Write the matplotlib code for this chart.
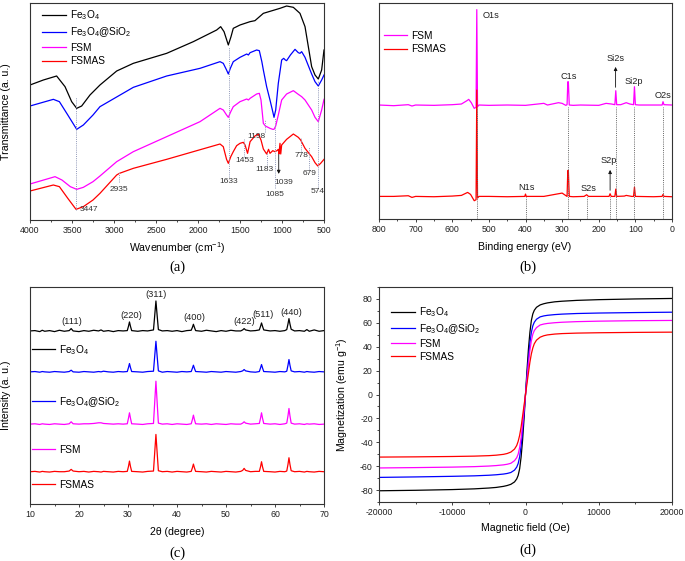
import matplotlib
matplotlib.use("Agg")
import matplotlib.pyplot as plt
from matplotlib.ticker import MultipleLocator
from matplotlib.lines import Line2D
from matplotlib.legend import Legend

plt.rcParams['font.family'] = ['Liberation Sans', 'DejaVu Sans']
plt.rcParams['mathtext.fontset'] = 'custom'
plt.rcParams['mathtext.rm'] = 'Liberation Sans'
plt.rcParams['mathtext.it'] = 'Liberation Sans:italic'
plt.rcParams['axes.unicode_minus'] = False

# ---------------- names / colours ----------------
names = ['Fe$_3$O$_4$', 'Fe$_3$O$_4$@SiO$_2$', 'FSM', 'FSMAS']
colors = ['#000000', '#0000ff', '#ff00ff', '#ff0000']

# ---------------- (a) FT-IR ----------------
ir_black_x = [4000, 3841, 3683, 3583, 3504, 3444, 3385, 3286, 3167, 2968, 2770, 2373, 2056, 1778, 1730,
              1690, 1639, 1607, 1580, 1500, 1381, 1322, 1222, 1024, 945, 865, 786, 726, 647, 607, 568, 528, 500]
ir_black_y = [405, 420, 432, 400, 355, 335, 342, 375, 405, 447, 470, 500, 535, 570, 580,
              565, 525, 550, 575, 585, 595, 598, 620, 635, 642, 638, 620, 580, 460, 435, 423, 450, 510]

ir_blue_x = [4000, 3722, 3650, 3550, 3444, 3365, 3250, 3167, 2770, 2373, 1976, 1738, 1699, 1660, 1639, 1615,
             1580, 1500, 1420, 1400, 1380, 1302, 1270, 1240, 1222, 1183, 1143, 1110, 1095, 1075, 1044, 1004,
             980, 960, 945, 900, 845, 806, 786, 766, 726, 647, 607, 568, 528, 500]
ir_blue_y = [342, 362, 355, 315, 272, 285, 315, 340, 398, 432, 455, 475, 470, 450, 438, 455,
             475, 488, 498, 495, 502, 510, 508, 475, 450, 400, 360, 325, 308, 330, 410, 480,
             485, 480, 478, 495, 512, 502, 500, 505, 488, 438, 415, 402, 420, 435]

ir_fsm_x = [4000, 3702, 3620, 3520, 3444, 3365, 3250, 3167, 2968, 2770, 2373, 1976, 1738, 1699, 1660, 1639,
            1610, 1580, 1500, 1420, 1400, 1380, 1302, 1270, 1250, 1222, 1198, 1143, 1110, 1095, 1075, 1044,
            1004, 945, 865, 806, 766, 726, 647, 607, 568, 528, 500]
ir_fsm_y = [108, 130, 120, 100, 92, 98, 115, 132, 175, 205, 250, 295, 335, 330, 315, 308,
            325, 340, 355, 363, 360, 365, 378, 380, 360, 290, 282, 275, 272, 272, 282, 315,
            360, 378, 388, 377, 370, 360, 330, 308, 295, 330, 362]

ir_fsmas_x = [4000, 3722, 3650, 3550, 3452, 3365, 3250, 3167, 2968, 2935, 2770, 2373, 2056, 1738, 1699, 1660,
              1639, 1610, 1580, 1540, 1500, 1461, 1440, 1410, 1380, 1322, 1282, 1250, 1222, 1183, 1160, 1143,
              1110, 1085, 1060, 1044, 1036, 1024, 1015, 1004, 945, 865, 806, 778, 726, 679, 647, 607, 574,
              540, 500]
ir_fsmas_y = [87, 105, 100, 65, 32, 40, 60, 80, 135, 140, 155, 182, 205, 228, 220, 182,
              170, 190, 205, 223, 230, 233, 225, 200, 235, 252, 258, 240, 213, 198, 212, 200,
              208, 205, 208, 212, 198, 230, 198, 225, 242, 258, 248, 240, 215, 200, 190, 172, 162,
              170, 182]

ir_marks = [3447, 2935, 1633, 1453, 1198, 1183, 1085, 778, 679, 574]
ir_mark_lo = [30, 115, 130, 190, 265, 160, 95, 205, 150, 100]
ir_mark_hi = [370, 145, 520, 242, 300, 205, 305, 245, 220, 420]
ir_labels = ['3447', '2935', '1633', '1453', '1198', '1183', '1085', '1039', '778', '679', '574']
ir_label_x = [3300, 2940, 1635, 1440, 1310, 1215, 1091, 976, 770, 667, 575]
ir_label_y = [30, 90, 115, 178, 250, 152, 77, 113, 192, 138, 85]

# ---------------- (b) XPS ----------------
xps_fsm_x = [800, 760, 720, 710, 700, 650, 600, 575, 560, 555, 548, 540, 535, 533, 531, 527, 500, 450, 400,
             350, 340, 310, 300, 290, 286.5, 284.5, 283, 280.5, 270, 250, 200, 180, 165, 156, 153.5, 151,
             140, 125, 115, 105, 102.5, 100, 90, 50, 27, 24.5, 22, 0]
xps_fsm_y = [345, 343, 346, 342, 345, 344, 346, 348, 358, 362, 352, 335, 338, 632, 340, 345, 344, 345, 344,
             350, 345, 352, 350, 344, 346, 415, 415, 345, 344, 345, 344, 350, 348, 346, 388, 346,
             346, 352, 348, 346, 400, 346, 345, 345, 345, 355, 346, 345]
xps_fsmas_x = [800, 760, 720, 710, 700, 650, 600, 575, 558, 550, 540, 535, 533, 531, 527, 500, 450, 402, 400,
               398, 350, 310, 300, 292, 286.5, 284.5, 283, 280.5, 270, 240, 233, 228, 200, 172, 169, 166, 156,
               153.5, 151, 130, 125, 110, 105, 102.5, 100, 50, 27, 24.5, 22, 0]
xps_fsmas_y = [70, 70, 72, 67, 70, 69, 71, 73, 82, 76, 57, 60, 390, 65, 70, 70, 69, 70, 77,
               70, 70, 78, 80, 74, 70, 148, 148, 70, 69, 70, 75, 70, 70, 70, 78, 70, 70,
               92, 70, 71, 73, 70, 70, 98, 70, 69, 70, 76, 70, 69]
xps_marks_hi = [532, 284, 154, 103, 25]
xps_marks_lo = [400, 233, 169]
xps_labels = ['O1s', 'C1s', 'Si2s', 'Si2p', 'O2s', 'N1s', 'S2s', 'S2p']
xps_label_x = [518, 281, 155.5, 103, 24.5, 397, 229, 173.6]
xps_label_y = [615, 432, 485, 415, 375, 97, 95, 177]

# ---------------- (c) XRD ----------------
xrd_x = [10, 11, 12, 12.5, 13, 14, 15, 16, 17, 18, 18.4, 18.8, 20, 21, 22, 23, 24, 24.5, 25, 26, 27, 28, 29,
         29.85, 30.1, 30.3, 30.5, 30.75, 32, 33, 34, 35.2, 35.45, 35.7, 35.95, 36.2, 37, 38, 39, 40, 41, 42,
         42.9, 43.15, 43.35, 43.55, 43.8, 45, 46, 47, 48, 49, 50, 51, 52, 53, 53.4, 53.7, 54.0, 55, 56,
         56.8, 57.05, 57.25, 57.45, 57.7, 59, 60, 61, 62, 62.4, 62.65, 62.85, 63.05, 63.3, 64, 65, 66, 66.5,
         67, 68, 69, 70]
xrd_black = [520, 521, 518, 522, 519, 521, 518, 522, 519, 521, 527, 520, 518, 521, 519, 522, 520, 523, 519,
             521, 518, 521, 520, 521, 534, 547, 534, 521, 519, 521, 520, 523, 566, 610, 566, 524, 520, 521,
             519, 521, 518, 521, 522, 531, 540, 531, 521, 519, 522, 520, 518, 521, 519, 522, 520, 520, 523,
             527, 523, 520, 521, 523, 534, 544, 534, 523, 520, 521, 519, 521, 524, 541, 557, 541, 525, 520,
             521, 519, 524, 519, 523, 519, 521]
xrd_blue = [397, 398, 396, 398, 397, 396, 398, 397, 396, 398, 402, 397, 396, 398, 397, 396, 398, 397, 399,
            397, 396, 398, 397, 398, 410, 422, 410, 398, 397, 396, 398, 399, 444, 489, 444, 400, 396, 398,
            397, 396, 398, 397, 398, 408, 417, 408, 398, 397, 396, 398, 397, 396, 398, 397, 396, 398, 400,
            404, 400, 397, 396, 398, 409, 419, 409, 398, 397, 396, 398, 397, 399, 417, 434, 417, 400, 397,
            398, 396, 398, 397, 396, 398, 397]
xrd_fsm = [240, 241, 239, 241, 240, 239, 241, 240, 239, 241, 247, 241, 240, 241, 241, 242, 244, 244, 242,
           241, 240, 241, 240, 241, 258, 274, 258, 241, 240, 239, 241, 242, 305, 369, 305, 243, 240, 241,
           239, 241, 240, 239, 241, 254, 267, 254, 241, 240, 241, 239, 241, 240, 239, 241, 240, 240, 243,
           247, 243, 240, 241, 242, 258, 274, 258, 242, 240, 241, 239, 241, 243, 265, 287, 265, 243, 240,
           241, 239, 241, 240, 241, 239, 240]
xrd_fsmas = [97, 98, 96, 98, 97, 96, 98, 97, 97, 99, 104, 99, 97, 98, 96, 98, 97, 96, 98, 97, 96, 98, 97,
             98, 113, 129, 113, 98, 97, 96, 98, 99, 154, 209, 154, 100, 97, 98, 96, 98, 97, 96, 98, 109, 120,
             109, 98, 97, 96, 98, 97, 96, 98, 97, 96, 98, 101, 107, 101, 97, 98, 98, 112, 127, 112, 98, 97,
             96, 98, 97, 99, 119, 139, 119, 100, 97, 98, 96, 98, 97, 96, 98, 97]
hkl_labels = ['(111)', '(220)', '(311)', '(400)', '(422)', '(511)', '(440)']
hkl_x = [18.6, 30.6, 35.8, 43.5, 53.8, 57.6, 63.4]
hkl_y = [547, 567, 629, 560, 547, 570, 575]

# ---------------- (d) VSM ----------------
field = [-20000, -15000, -10000, -7000, -5000, -4000, -3000, -2500, -2000, -1500, -1200, -1000, -800, -600,
         -400, -200, 0, 200, 400, 600, 800, 1000, 1200, 1500, 2000, 2500, 3000, 4000, 5000, 7000, 10000,
         15000, 20000]
m_black = [-80.6, -80.2, -79.6, -79.0, -78.3, -77.8, -76.9, -76.2, -75.2, -73.2, -70.7, -67.7, -62.2, -52.3,
           -38.3, -20.3, 0, 20, 38, 52, 62, 67.5, 70.5, 73, 75, 76, 76.7, 77.6, 78.1, 78.8, 79.4, 80, 80.4]
m_blue = [-69.4, -69.0, -68.5, -68.1, -67.6, -67.2, -66.6, -66.1, -65.3, -63.3, -60.8, -57.8, -52.3, -43.3,
          -30.3, -15.3, 0, 15, 30, 43, 52, 57.5, 60.5, 63, 65, 65.8, 66.3, 66.9, 67.3, 67.8, 68.2, 68.6, 68.9]
m_fsm = [-61.5, -61.2, -60.8, -60.4, -59.9, -59.5, -58.9, -58.4, -57.6, -55.4, -52.9, -49.9, -44.4, -36.4,
         -25.4, -12.6, 0, 13, 26, 37, 45, 50.5, 53.5, 56, 58.2, 59, 59.5, 60.1, 60.5, 61, 61.4, 61.8, 62]
m_fsmas = [-52.4, -52.2, -51.9, -51.6, -51.2, -50.8, -50.1, -49.4, -48.2, -45.7, -42.7, -39.2, -34.2, -27.2,
           -18.2, -9.2, 0, 9, 18, 27, 34, 39, 42.5, 45.5, 48, 49.2, 49.9, 50.6, 51, 51.4, 51.7, 52, 52.2]

# ---------------- figure ----------------
W, H = 685, 561
fig = plt.figure(figsize=(W / 100, H / 100), dpi=100)


def box(l, t, r, b):
    return [l / W, 1 - b / H, (r - l) / W, (b - t) / H]


axa = fig.add_axes(box(30, 3, 324, 220))
axb = fig.add_axes(box(379, 3, 672, 219))
axc = fig.add_axes(box(30, 287, 324, 504))
axd = fig.add_axes(box(379, 287, 672, 502))

LW = 0.9
TICKFS = 6.3
LABFS = 7.6
ANNFS = 6.0
LEGFS = 7.3
LEGKW = dict(frameon=False, fontsize=LEGFS, handlelength=2.3, handletextpad=0.4,
             borderaxespad=0, borderpad=0.2)

for ax in (axa, axb, axc, axd):
    for s in ax.spines.values():
        s.set_linewidth(0.8)
        s.set_color('#333333')
    ax.tick_params(which='major', direction='out', length=2.5, width=0.6, labelsize=TICKFS, pad=2,
                   colors='#222222')
    ax.tick_params(which='minor', direction='out', length=1.5, width=0.5)

# (a)
for xs, ys, c, n in zip([ir_black_x, ir_blue_x, ir_fsm_x, ir_fsmas_x],
                        [ir_black_y, ir_blue_y, ir_fsm_y, ir_fsmas_y], colors, names):
    axa.plot(xs, ys, color=c, lw=LW, label=n)
axa.set_xlim(4000, 500)
axa.set_ylim(0, 651)
axa.set_yticks([])
axa.xaxis.set_major_locator(MultipleLocator(500))
axa.xaxis.set_minor_locator(MultipleLocator(250))
axa.vlines(ir_marks, ir_mark_lo, ir_mark_hi, colors='#9098b8', linestyles=(0, (1, 1.2)), lw=0.7)
axa.annotate('', xy=(1039, 130), xytext=(1039, 205),
             arrowprops=dict(arrowstyle='-|>', color='#111111', lw=0.6, mutation_scale=5))
for t, x, y in zip(ir_labels, ir_label_x, ir_label_y):
    axa.text(x, y, t, fontsize=ANNFS, ha='center', va='center', color='#333333')
axa.set_xlabel('Wavenumber (cm$^{-1}$)', fontsize=LABFS)
axa.xaxis.set_label_coords(0.5, (220 - 248) / 217)
axa.xaxis.label.set_va('center')
axa.set_ylabel('Transmittance (a. u.)', fontsize=LABFS)
axa.yaxis.set_label_coords((6 - 30) / 294, 0.5)
axa.yaxis.label.set_va('center')
axa.legend(loc='upper left', bbox_to_anchor=(0.035, 0.985), labelspacing=0.35, **LEGKW)

# (b)
axb.plot(xps_fsm_x, xps_fsm_y, color=colors[2], lw=LW, label='FSM')
axb.plot(xps_fsmas_x, xps_fsmas_y, color=colors[3], lw=LW, label='FSMAS')
axb.set_xlim(800, 0)
axb.set_ylim(2, 652)
axb.set_yticks([])
axb.xaxis.set_major_locator(MultipleLocator(100))
axb.xaxis.set_minor_locator(MultipleLocator(50))
axb.vlines(xps_marks_hi, 2, 340, colors='#666666', linestyles=(0, (1, 1.2)), lw=0.7)
axb.vlines(xps_marks_lo, 2, 68, colors='#666666', linestyles=(0, (1, 1.2)), lw=0.7)
axb.annotate('', xy=(154, 468), xytext=(154, 390),
             arrowprops=dict(arrowstyle='-|>', color='#111111', lw=0.6, mutation_scale=5))
axb.annotate('', xy=(169, 158), xytext=(169, 80),
             arrowprops=dict(arrowstyle='-|>', color='#111111', lw=0.6, mutation_scale=5))
for i, (t, x, y) in enumerate(zip(xps_labels, xps_label_x, xps_label_y)):
    axb.text(x, y, t, fontsize=6.6, ha='left' if i == 0 else 'center', va='center', color='#222222')
axb.set_xlabel('Binding energy (eV)', fontsize=LABFS)
axb.xaxis.set_label_coords((525 - 379) / 293, (219 - 247) / 216)
axb.xaxis.label.set_va('center')
axb.legend(loc='upper left', bbox_to_anchor=(0.01, 0.88), labelspacing=0.35, **LEGKW)

# (c)
for ys, c in zip([xrd_black, xrd_blue, xrd_fsm, xrd_fsmas], colors):
    axc.plot(xrd_x, ys, color=c, lw=LW)
axc.set_xlim(10, 70)
axc.set_ylim(0, 652)
axc.set_yticks([])
axc.xaxis.set_major_locator(MultipleLocator(10))
axc.xaxis.set_minor_locator(MultipleLocator(5))
for t, x, y in zip(hkl_labels, hkl_x, hkl_y):
    axc.text(x, y, t, fontsize=6.7, ha='center', va='center', color='#222222')
for n, c, yy in zip(names, colors, [0.710, 0.470, 0.249, 0.0876]):
    lg = Legend(axc, [Line2D([], [], color=c, lw=LW)], [n], loc='center left',
                bbox_to_anchor=(0.0, yy), **LEGKW)
    axc.add_artist(lg)
axc.set_xlabel('2θ (degree)', fontsize=LABFS)
axc.xaxis.set_label_coords(0.5, (504 - 532) / 217)
axc.xaxis.label.set_va('center')
axc.set_ylabel('Intensity (a. u.)', fontsize=LABFS)
axc.yaxis.set_label_coords((6 - 30) / 294, 0.5)
axc.yaxis.label.set_va('center')

# (d)
for ys, c, n in zip([m_black, m_blue, m_fsm, m_fsmas], colors, names):
    axd.plot(field, ys, color=c, lw=LW, label=n)
axd.set_xlim(-20000, 20000)
axd.set_ylim(-90, 90)
axd.xaxis.set_major_locator(MultipleLocator(10000))
axd.xaxis.set_minor_locator(MultipleLocator(5000))
axd.yaxis.set_major_locator(MultipleLocator(20))
axd.yaxis.set_minor_locator(MultipleLocator(10))
axd.set_xlabel('Magnetic field (Oe)', fontsize=LABFS)
axd.xaxis.set_label_coords((525 - 379) / 293, (502 - 528) / 215)
axd.xaxis.label.set_va('center')
axd.set_ylabel('Magnetization (emu g$^{-1}$)', fontsize=LABFS)
axd.yaxis.set_label_coords((342 - 379) / 293, 0.5)
axd.yaxis.label.set_va('center')
axd.legend(loc='upper left', bbox_to_anchor=(0.035, 0.925), labelspacing=0.3, **LEGKW)

# panel letters
for t, x, y in [('(a)', 177, 267), ('(b)', 528, 267), ('(c)', 177, 553), ('(d)', 528, 550)]:
    fig.text(x / W, 1 - y / H, t, fontsize=10.5, family='Liberation Serif', ha='center', va='center')

fig.savefig('out.png', dpi=100)
